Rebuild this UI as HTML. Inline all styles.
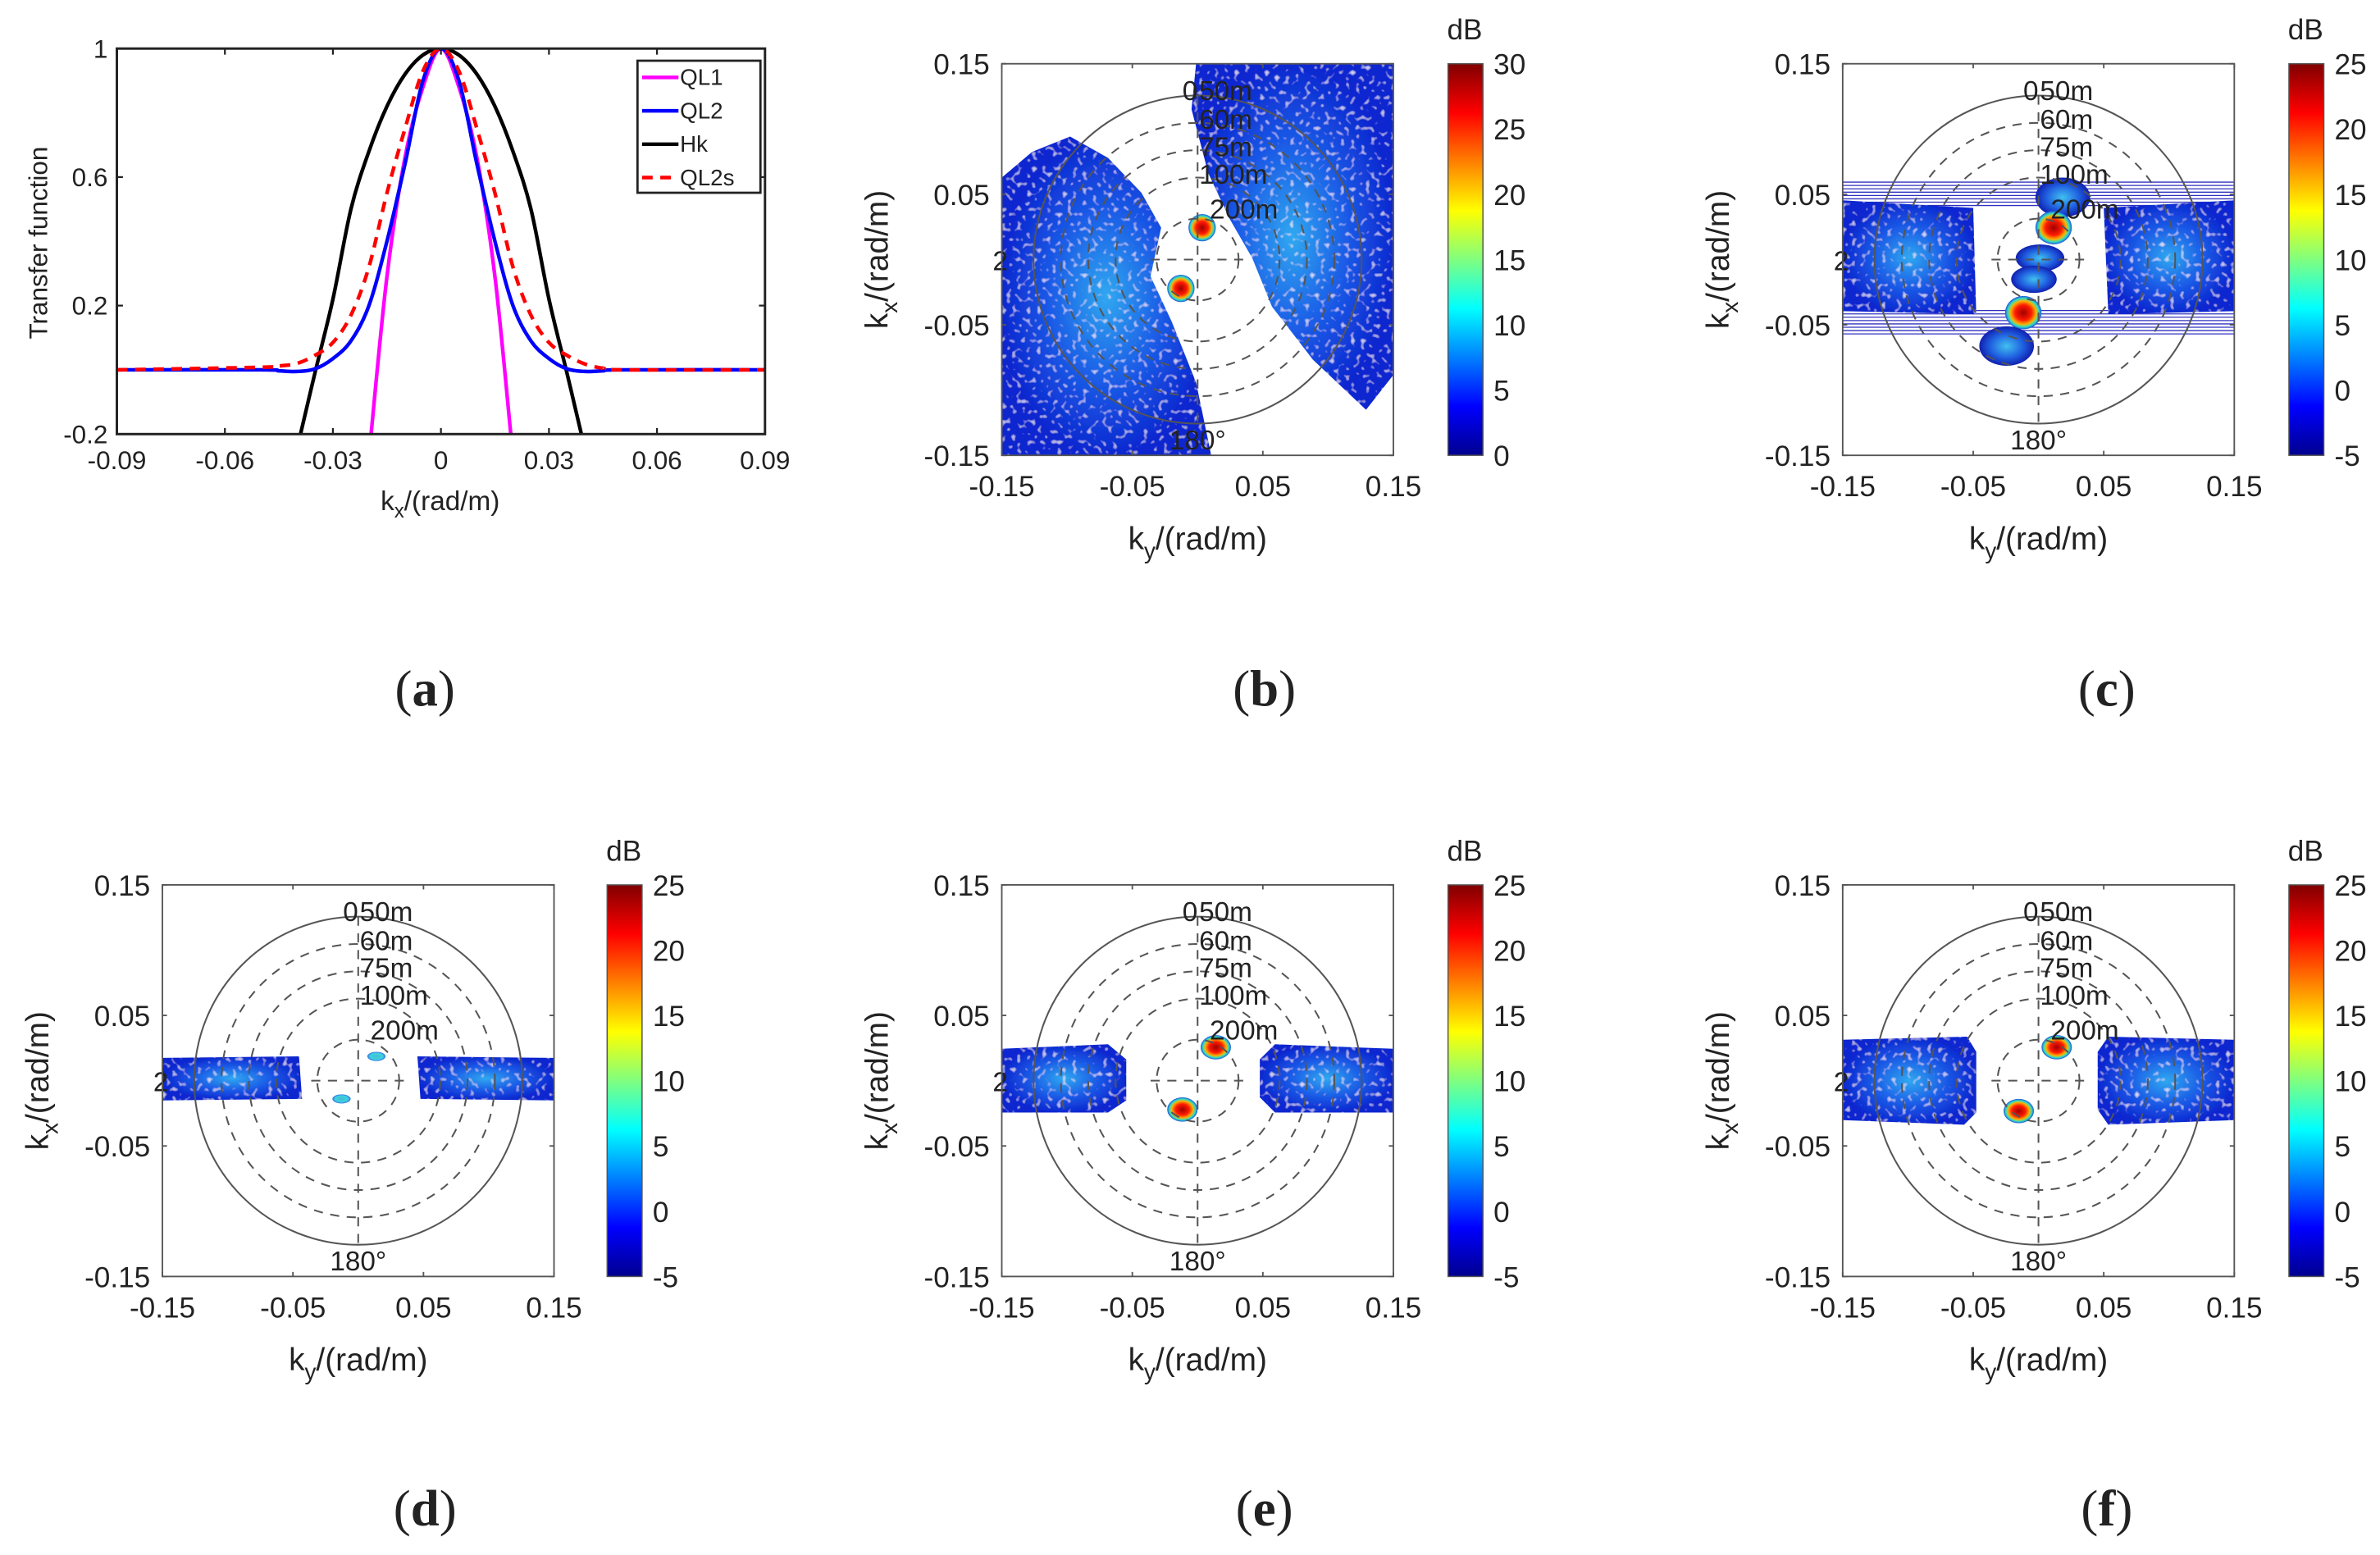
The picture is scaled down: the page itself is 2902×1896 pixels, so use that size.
<!DOCTYPE html>
<html><head><meta charset="utf-8"><style>
html,body{margin:0;padding:0;background:#fff;}
svg{display:block;}
text{font-family:"Liberation Sans",sans-serif;fill:#222;}
</style></head><body>
<svg id="fig" width="2902" height="1896" viewBox="0 0 1568 1024.5" preserveAspectRatio="none" xmlns="http://www.w3.org/2000/svg">
<defs>
<linearGradient id="jet" x1="0" y1="1" x2="0" y2="0">
<stop offset="0" stop-color="#00008f"/><stop offset="0.125" stop-color="#0000ff"/><stop offset="0.375" stop-color="#00ffff"/><stop offset="0.625" stop-color="#ffff00"/><stop offset="0.875" stop-color="#ff0000"/><stop offset="1" stop-color="#800000"/>
</linearGradient>
<radialGradient id="cloud"><stop offset="0" stop-color="#30a8f0"/><stop offset="0.55" stop-color="#1a5ae6"/><stop offset="1" stop-color="#0c28d0"/></radialGradient>
<radialGradient id="peak"><stop offset="0" stop-color="#a00000"/><stop offset="0.45" stop-color="#ff1a00"/><stop offset="0.7" stop-color="#ffb000"/><stop offset="0.85" stop-color="#30e0c0"/><stop offset="1" stop-color="#2050e0"/></radialGradient>
<radialGradient id="weak"><stop offset="0" stop-color="#40c0d0"/><stop offset="0.7" stop-color="#40d0e0"/><stop offset="1" stop-color="#3070e0"/></radialGradient>
<radialGradient id="blueblob"><stop offset="0" stop-color="#40c0f0"/><stop offset="0.6" stop-color="#2060e0"/><stop offset="1" stop-color="#1020b0"/></radialGradient>
<filter id="speck"><feTurbulence type="fractalNoise" baseFrequency="0.3" numOctaves="1" seed="3" result="n"/><feColorMatrix in="n" type="matrix" values="0 0 0 0 1  0 0 0 0 1  0 0 0 0 1  0 0 0 -2.5 1.05" result="m"/><feComposite in="m" in2="SourceGraphic" operator="in" result="w"/><feMerge><feMergeNode in="SourceGraphic"/><feMergeNode in="w"/></feMerge></filter>
</defs>
</svg>
<script>
const NS="http://www.w3.org/2000/svg";
const svg=document.getElementById('fig');
function el(tag,attrs,parent,txt){const e=document.createElementNS(NS,tag);for(const k in attrs)e.setAttribute(k,attrs[k]);if(txt!==undefined)e.textContent=txt;(parent||svg).appendChild(e);return e;}

// ---- Panel (a) data ----
const kGrid=[-0.09,-0.05,-0.045,-0.04,-0.035,-0.03,-0.025,-0.02,-0.015,-0.01,-0.005,0,0.005,0.01,0.015,0.02,0.025,0.03,0.035,0.04,0.045,0.05,0.09];
const ql2Vals=[0,0,-0.003,-0.005,0.003,0.035,0.09,0.2,0.4,0.64,0.9,1,0.9,0.64,0.4,0.2,0.09,0.035,0.003,-0.005,-0.003,0,0];
const ql2sVals=[0,0.008,0.012,0.02,0.045,0.085,0.17,0.32,0.55,0.75,0.93,1,0.93,0.75,0.55,0.32,0.17,0.085,0.045,0.018,0.005,0,0];
const kHk=[-0.039,-0.035,-0.03,-0.025,-0.02,-0.015,-0.01,-0.005,0,0.005,0.01,0.015,0.02,0.025,0.03,0.035,0.039];
const hkVals=[-0.2,-0.01,0.22,0.5,0.68,0.82,0.92,0.98,1,0.98,0.92,0.82,0.68,0.5,0.22,-0.01,-0.2];
const kQl1=[-0.0194,-0.015,-0.01,-0.005,0,0.005,0.01,0.015,0.0194];
const ql1Vals=[-0.2,0.29,0.66,0.88,1,0.88,0.66,0.29,-0.2];
const xTicksA=[-0.09,-0.06,-0.03,0,0.03,0.06,0.09];
const xTickLabelsA=['-0.09','-0.06','-0.03','0','0.03','0.06','0.09'];
const yTicksA=[-0.2,0.2,0.6,1];
const yTickLabelsA=['-0.2','0.2','0.6','1'];
const legendNames=['QL1','QL2','Hk','QL2s'];

const A={x0:77,x1:504,y0:32,y1:286,xmin:-0.09,xmax:0.09,ymin:-0.2,ymax:1};
const ax=v=>A.x0+(v-A.xmin)/(A.xmax-A.xmin)*(A.x1-A.x0);
const ay=v=>A.y1-(v-A.ymin)/(A.ymax-A.ymin)*(A.y1-A.y0);

const gA=el('g',{});


const clipA=el('clipPath',{id:'clipA'},svg);el('rect',{x:A.x0,y:A.y0,width:A.x1-A.x0,height:A.y1-A.y0},clipA);

function smoothPath(xs,ys){
  const p=xs.map((x,i)=>[ax(x),ay(ys[i])]);
  let d='M'+p[0][0]+','+p[0][1];
  for(let i=0;i<p.length-1;i++){
    const p0=p[i-1]||p[i],p1=p[i],p2=p[i+1],p3=p[i+2]||p[i+1];
    const c1=[p1[0]+(p2[0]-p0[0])/6,p1[1]+(p2[1]-p0[1])/6];
    const c2=[p2[0]-(p3[0]-p1[0])/6,p2[1]-(p3[1]-p1[1])/6];
    d+=' C'+c1[0]+','+c1[1]+' '+c2[0]+','+c2[1]+' '+p2[0]+','+p2[1];
  }
  return d;
}
const series=[
 {n:'ql1-line',x:kQl1,y:ql1Vals,c:'#ff00ff',dash:null},
 {n:'hk-line',x:kHk,y:hkVals,c:'#000000',dash:null},
 {n:'ql2-line',x:kGrid,y:ql2Vals,c:'#0000ff',dash:null},
 {n:'ql2s-line',x:kGrid,y:ql2sVals,c:'#ff0000',dash:'7,5'}
];
const gCurves=el('g',{'clip-path':'url(#clipA)'},gA);
series.forEach(s=>{
  const p=el('path',{d:smoothPath(s.x,s.y),fill:'none',stroke:s.c,'stroke-width':2.4},gCurves);
  if(s.dash)p.setAttribute('stroke-dasharray',s.dash);
  
  
});
el('rect',{x:A.x0,y:A.y0,width:A.x1-A.x0,height:A.y1-A.y0,fill:'none',stroke:'#222','stroke-width':1.6},gA);
xTicksA.forEach((t,i)=>{
  const x=ax(t);
  el('line',{x1:x,x2:x,y1:A.y1,y2:A.y1-4,stroke:'#222','stroke-width':1.2},gA);
  el('line',{x1:x,x2:x,y1:A.y0,y2:A.y0+4,stroke:'#222','stroke-width':1.2},gA);
  const tx=el('text',{x:x,y:A.y1+23,'font-size':17,'text-anchor':'middle'},gA,xTickLabelsA[i]);
  
  
});
yTicksA.forEach((t,i)=>{
  const y=ay(t);
  el('line',{x1:A.x0,x2:A.x0+4,y1:y,y2:y,stroke:'#222','stroke-width':1.2},gA);
  el('line',{x1:A.x1,x2:A.x1-4,y1:y,y2:y,stroke:'#222','stroke-width':1.2},gA);
  const tx=el('text',{x:A.x0-6,y:y+6,'font-size':17,'text-anchor':'end'},gA,yTickLabelsA[i]);
  
  
});
const ylA=el('text',{x:31,y:160,'font-size':17,'text-anchor':'middle',transform:'rotate(-90 31 160)'},gA,'Transfer function');


const xlA=el('text',{x:290,y:336,'font-size':18,'text-anchor':'middle'},gA);


el('tspan',{},xlA,'k');el('tspan',{dy:5,'font-size':13},xlA,'x');el('tspan',{dy:-5},xlA,'/(rad/m)');
// legend
const lg=el('g',{},gA);


el('rect',{x:420,y:40,width:81,height:87,fill:'#fff',stroke:'#222','stroke-width':1.5},lg);
const legSeries=[series[0],series[2],series[1],series[3]];
legendNames.forEach((nm,i)=>{
  const y=51+i*22;
  const ln=el('line',{x1:423,x2:447,y1:y,y2:y,stroke:legSeries[i].c,'stroke-width':2.4},lg);
  if(legSeries[i].dash)ln.setAttribute('stroke-dasharray','7,5');
  const t=el('text',{x:448,y:y+5,'font-size':15},lg,nm);
  
  
});

// ---- Spectrum panels ----
const specTicks=[-0.15,-0.05,0.05,0.15];
const specTickLabels=['-0.15','-0.05','0.05','0.15'];
const cbTicksB=['30','25','20','15','10','5','0'];
const cbTicksOther=['25','20','15','10','5','0','-5'];
const ringLengths=[50,60,75,100,200];

const panels=[
 {id:'b',x0:660,y0:42,cb:954,cbl:cbTicksB},
 {id:'c',x0:1214,y0:42,cb:1508,cbl:cbTicksOther},
 {id:'d',x0:107,y0:583,cb:400,cbl:cbTicksOther},
 {id:'e',x0:660,y0:583,cb:954,cbl:cbTicksOther},
 {id:'f',x0:1214,y0:583,cb:1508,cbl:cbTicksOther}
];
const S=258;
panels.forEach(P=>{
  const g=el('g',{});
  
  
  const sx=v=>P.x0+(v+0.15)/0.3*S;
  const sy=v=>P.y0+S-(v+0.15)/0.3*S;
  const cx=sx(0),cy=sy(0),pr=k=>k/0.3*S;
  const cl=el('clipPath',{id:'clip'+P.id},svg);el('rect',{x:P.x0,y:P.y0,width:S,height:S},cl);
  const data=el('g',{'clip-path':'url(#clip'+P.id+')'},g);
  
  
  const X=P.x0,Y=P.y0;
  const poly=(pts,fill,f)=>{const p=el('polygon',{points:pts.map(q=>(X+q[0])+','+(Y+q[1])).join(' '),fill:fill},data);if(f)p.setAttribute('filter','url(#speck)');return p;};
  const ell=(x,y,rx,ry,fill)=>el('ellipse',{cx:X+x,cy:Y+y,rx:rx,ry:ry,fill:fill},data);
  if(P.id==='b'){
    poly([[0,75],[20,58],[45,48],[70,62],[92,85],[105,108],[98,140],[112,170],[128,210],[138,258],[0,258]],'url(#cloud)',1);
    poly([[128,0],[258,0],[258,205],[240,228],[205,195],[178,160],[165,128],[150,102],[136,72],[125,30]],'url(#cloud)',1);
    ell(132,108,9,9,'url(#peak)');ell(118,148,9,9,'url(#peak)');
  } else if(P.id==='c'){
    for(let i=0;i<8;i++){
      el('line',{x1:X,x2:X+S,y1:Y+78+i*2.2,y2:Y+78+i*2.2,stroke:'#3030c0','stroke-width':0.7},data);
      el('line',{x1:X,x2:X+S,y1:Y+178-i*2.2,y2:Y+178-i*2.2,stroke:'#3030c0','stroke-width':0.7},data);
    }
    poly([[0,90],[86,95],[88,165],[0,163]],'url(#cloud)',1);
    poly([[172,95],[258,90],[258,163],[175,165]],'url(#cloud)',1);
    ell(145,88,18,13,'url(#blueblob)');
    ell(139,108,12,11,'url(#peak)');
    ell(130,128,16,9,'url(#blueblob)');
    ell(126,142,15,9,'url(#blueblob)');
    ell(119,164,12,11,'url(#peak)');
    ell(108,186,18,13,'url(#blueblob)');
  } else if(P.id==='d'){
    poly([[0,114],[90,113],[92,141],[0,142]],'url(#cloud)',1);
    poly([[168,113],[258,114],[258,142],[170,141]],'url(#cloud)',1);
    ell(141,113,6,3,'url(#weak)');ell(118,141,6,3,'url(#weak)');
  } else if(P.id==='e'){
    poly([[0,108],[70,105],[82,115],[82,142],[70,150],[0,150]],'url(#cloud)',1);
    poly([[180,105],[258,108],[258,150],[180,150],[170,140],[170,115]],'url(#cloud)',1);
    ell(141,107,10,8,'url(#peak)');ell(119,148,10,8,'url(#peak)');
  } else {
    poly([[0,102],[82,100],[88,110],[88,150],[80,158],[0,155]],'url(#cloud)',1);
    poly([[175,100],[258,102],[258,155],[175,158],[168,148],[168,110]],'url(#cloud)',1);
    ell(141,107,10,8,'url(#peak)');ell(116,149,10,8,'url(#peak)');
  }
  // polar overlay
  const ov=el('g',{fill:'none',stroke:'#555','stroke-width':1.1},g);
  
  
  ringLengths.forEach((L,i)=>{
    const c=el('circle',{cx:cx,cy:cy,r:pr(2*Math.PI/L)},ov);
    if(i>0)c.setAttribute('stroke-dasharray','6,5');
  });
  el('line',{x1:cx,x2:cx,y1:cy-pr(2*Math.PI/50),y2:cy+pr(2*Math.PI/50),'stroke-dasharray':'6,5'},ov);
  el('line',{x1:cx-pr(0.036),x2:cx+pr(0.036),y1:cy,y2:cy,'stroke-dasharray':'6,5'},ov);
  const lab=(x,y,t,a)=>{const e=el('text',{x:x,y:y,'font-size':18,'text-anchor':a||'start'},g,t);};
  lab(cx-5,cy-pr(2*Math.PI/50)+3,'0','middle');
  lab(cx+1,cy-pr(2*Math.PI/50)+3,'50m');
  lab(cx+1,cy-pr(2*Math.PI/60)+4,'60m');
  lab(cx+1,cy-pr(2*Math.PI/75)+4,'75m');
  lab(cx+1,cy-pr(2*Math.PI/100)+4,'100m');
  lab(cx+8,cy-pr(2*Math.PI/200)+0,'200m');
  lab(cx,P.y0+S-4,'180°','middle');
  lab(P.x0-6,cy+7,'2');
  // axes box
  el('rect',{x:P.x0,y:P.y0,width:S,height:S,fill:'none',stroke:'#555','stroke-width':1},g);
  specTicks.forEach((t,i)=>{
    const x=sx(t),y=sy(t);
    el('line',{x1:x,x2:x,y1:P.y0+S,y2:P.y0+S-3,stroke:'#555'},g);
    el('line',{x1:x,x2:x,y1:P.y0,y2:P.y0+3,stroke:'#555'},g);
    el('line',{x1:P.x0,x2:P.x0+3,y1:y,y2:y,stroke:'#555'},g);
    el('line',{x1:P.x0+S,x2:P.x0+S-3,y1:y,y2:y,stroke:'#555'},g);
    const tx=el('text',{x:x,y:P.y0+S+27,'font-size':19,'text-anchor':'middle'},g,specTickLabels[i]);
    
    
    const ty=el('text',{x:P.x0-8,y:y+7,'font-size':19,'text-anchor':'end'},g,specTickLabels[i]);
    
    
  });
  const xl=el('text',{x:P.x0+S/2,y:P.y0+S+62,'font-size':21,'text-anchor':'middle'},g);
  
  
  el('tspan',{},xl,'k');el('tspan',{dy:6,'font-size':15},xl,'y');el('tspan',{dy:-6},xl,'/(rad/m)');
  const yx=P.x0-75,yy=P.y0+S/2;
  const yl=el('text',{x:yx,y:yy,'font-size':21,'text-anchor':'middle',transform:'rotate(-90 '+yx+' '+yy+')'},g);
  
  
  el('tspan',{},yl,'k');el('tspan',{dy:6,'font-size':15},yl,'x');el('tspan',{dy:-6},yl,'/(rad/m)');
  // colorbar
  const cb=el('rect',{x:P.cb,y:P.y0,width:23,height:S,fill:'url(#jet)',stroke:'#555','stroke-width':0.8},g);
  
  
  const db=el('text',{x:P.cb+11,y:P.y0-16,'font-size':19,'text-anchor':'middle'},g,'dB');
  
  
  P.cbl.forEach((t,i)=>{
    const y=P.y0+i*S/(P.cbl.length-1);
    const tt=el('text',{x:P.cb+30,y:y+7,'font-size':19},g,t);
    
    
  });
});
// panel captions
const caps=[['a',280,453],['b',833,453],['c',1388,453],['d',280,993],['e',833,993],['f',1388,993]];
caps.forEach(c=>{
  const t=el('text',{x:c[1],y:c[2]+12,'font-size':34,'text-anchor':'middle'});
  t.setAttribute('style','font-family:"Liberation Serif",serif');
  
  
  el('tspan',{},t,'(');el('tspan',{'font-weight':'bold'},t,c[0]);el('tspan',{},t,')');
});
</script>
</body></html>
